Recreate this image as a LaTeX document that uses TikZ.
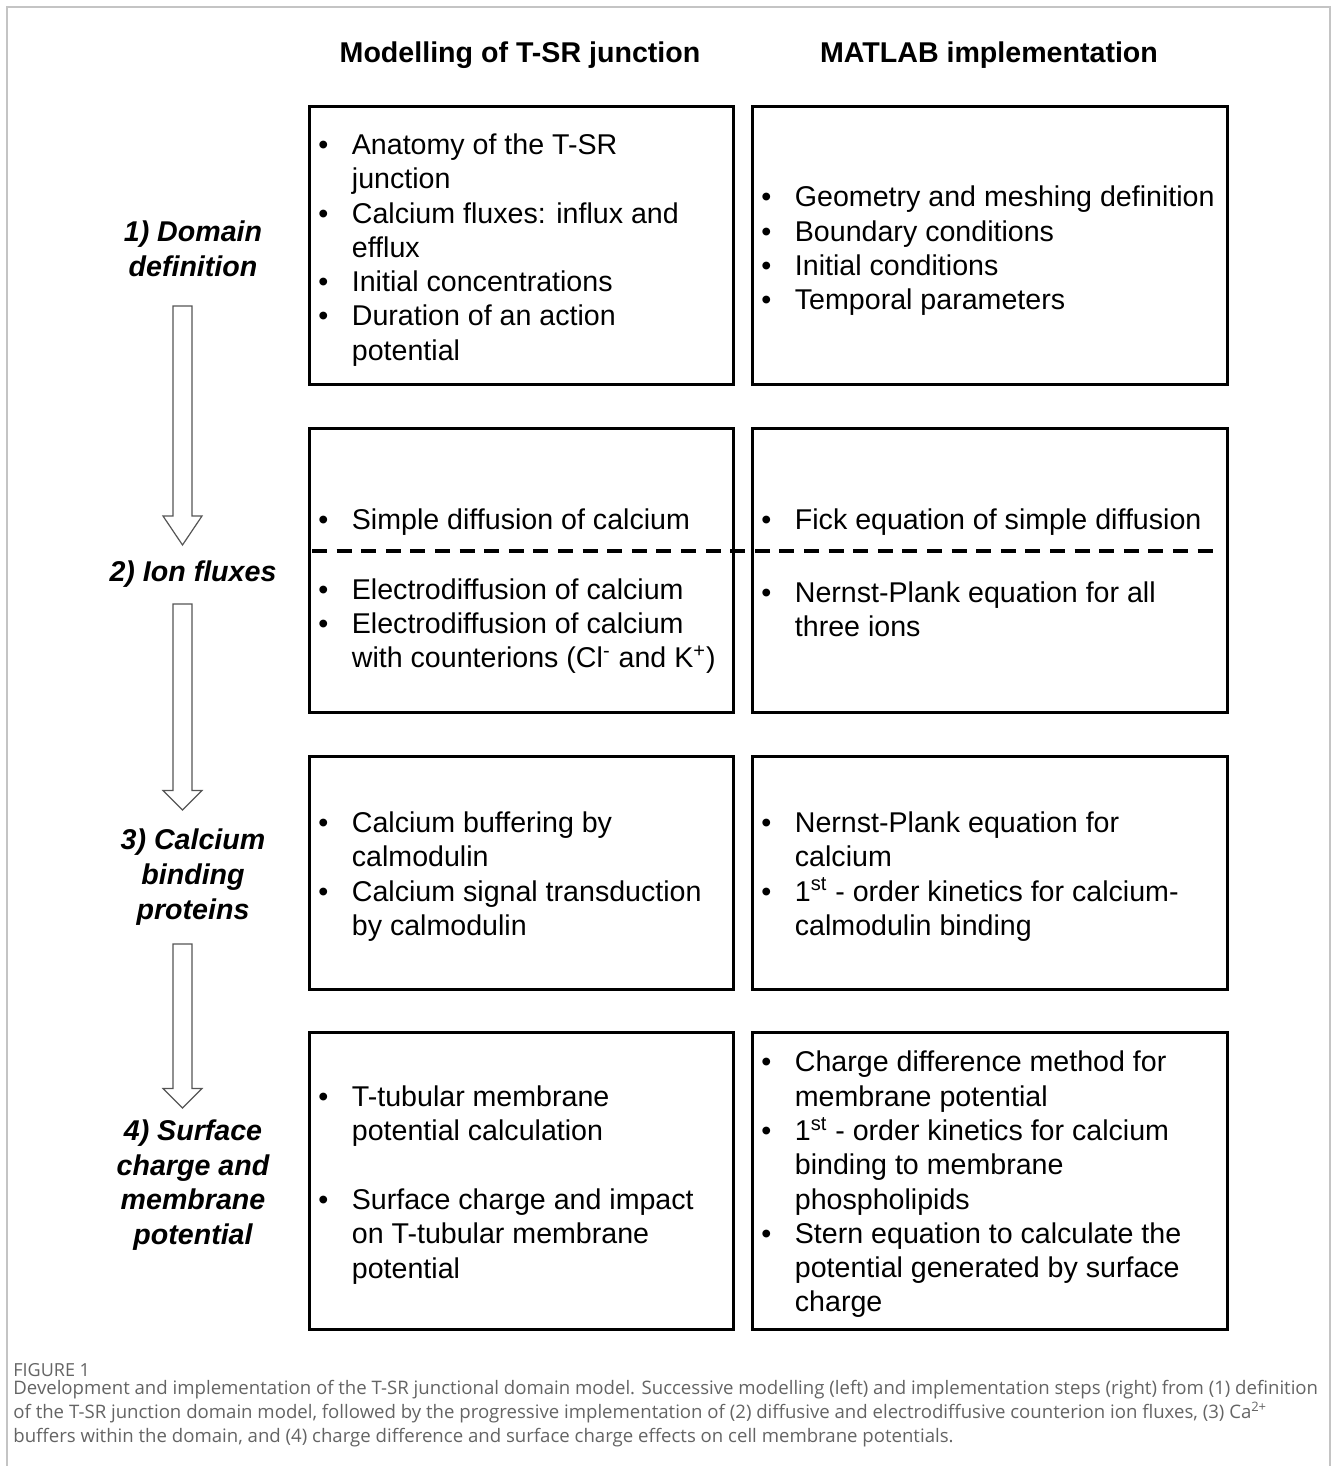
\documentclass[tikz,border=0pt]{standalone}
\usepackage{fontspec}
\setmainfont{Liberation Sans}
\newfontfamily\capfont{Open Sans}
\usetikzlibrary{calc}

\definecolor{framegray}{RGB}{196,196,196}
\definecolor{capgray}{RGB}{100,100,100}
\definecolor{arrowgray}{RGB}{85,85,85}

\newcommand{\bul}{\makebox[16.75pt][l]{\textbullet}}
\newcommand{\ind}{\hspace*{16.75pt}}
% hollow block arrow: top, tip, head length
\newcommand{\blockarrow}[3]{%
  \draw[blockarr] ($(#1)+(-9.5,0)$) -- ($(#2)+(-9.5,-#3)$) -- ($(#2)+(-19.5,-#3)$) -- (#2)
    -- ($(#2)+(19.5,-#3)$) -- ($(#2)+(9.5,-#3)$) -- ($(#1)+(9.5,0)$) -- cycle;}

\begin{document}
\begin{tikzpicture}[x=0.5pt,y=-0.5pt]
\useasboundingbox (0,0) rectangle (1331,1466);
\tikzstyle{every node}=[inner sep=0pt, font=\fontsize{14.3}{17.15}\selectfont];
\tikzstyle{colhead}=[font=\fontsize{14.3}{17.15}\selectfont\bfseries];
\tikzstyle{colbox}=[draw, rectangle, line width=1.5pt];
\tikzstyle{items}=[align=left, anchor=west];
\tikzstyle{steplabel}=[align=center, font=\fontsize{14.3}{17.3}\selectfont\bfseries\itshape];
\tikzstyle{blockarr}=[draw=arrowgray, line width=0.6pt, fill=white];
\tikzstyle{divider}=[line width=1.7pt, dash pattern=on 7.5pt off 4.8pt];

% outer frame
\draw[framegray, line width=0.75pt] (7,1466) -- (7,7) -- (1330,7) -- (1330,1466);

% column heads
\path (520,55) node[colhead] (hmod) {Modelling of T-SR junction};
\path (989,55) node[colhead] (hmat) {MATLAB implementation};

% boxes
\path (521,245.5) node[colbox, minimum width=212pt, minimum height=138.5pt] (m1) {};
\path (989.5,245.5) node[colbox, minimum width=237.5pt, minimum height=138.5pt] (i1) {};
\path (521,570) node[colbox, minimum width=212pt, minimum height=142pt] (m2) {};
\path (989.5,570) node[colbox, minimum width=237.5pt, minimum height=142pt] (i2) {};
\path (521,872.5) node[colbox, minimum width=212pt, minimum height=116.5pt] (m3) {};
\path (989.5,872.5) node[colbox, minimum width=237.5pt, minimum height=116.5pt] (i3) {};
\path (521,1180.5) node[colbox, minimum width=212pt, minimum height=148.5pt] (m4) {};
\path (989.5,1180.5) node[colbox, minimum width=237.5pt, minimum height=148.5pt] (i4) {};
\draw[divider] (312,551) -- (1222,551);

% step labels
\path (193,249) node[steplabel] (s1) {1) Domain\\definition};
\path (193,574) node[steplabel] (s2) {2) Ion fluxes};
\path (193,877) node[steplabel] (s3) {3) Calcium\\binding\\proteins};
\path (193,1185) node[steplabel] (s4) {4) Surface\\charge and\\membrane\\potential};

% arrows
\coordinate (a1top) at (182.5,306);
\coordinate (a1tip) at (182.5,545);
\coordinate (a2top) at (182.5,604);
\coordinate (a2tip) at (182.5,810);
\coordinate (a3top) at (182.5,944);
\coordinate (a3tip) at (182.5,1108);
\blockarrow{a1top}{a1tip}{29}
\blockarrow{a2top}{a2tip}{19.5}
\blockarrow{a3top}{a3tip}{19.5}

% modelling items
\path (318,250) node[items] (m1t) {\bul Anatomy of the T-SR\\ \ind junction\\ \bul Calcium fluxes: influx and\\ \ind efflux\\ \bul Initial concentrations\\ \bul Duration of an action\\ \ind potential};
\path (318,522) node[items] (m2a) {\bul Simple diffusion of calcium};
\path (318,626) node[items] (m2b) {\bul Electrodiffusion of calcium\\ \bul Electrodiffusion of calcium\\ \ind with counterions (Cl\textsuperscript{-} and K\textsuperscript{+})};
\path (318,876.5) node[items] (m3t) {\bul Calcium buffering by\\ \ind calmodulin\\ \bul Calcium signal transduction\\ \ind by calmodulin};
\path (318,1185) node[items] (m4t) {\bul T-tubular membrane\\ \ind potential calculation\\[17.15pt] \bul Surface charge and impact\\ \ind on T-tubular membrane\\ \ind potential};

% implementation items
\path (761,251) node[items] (i1t) {\bul Geometry and meshing definition\\ \bul Boundary conditions\\ \bul Initial conditions\\ \bul Temporal parameters};
\path (761,522) node[items] (i2a) {\bul Fick equation of simple diffusion};
\path (761,609) node[items] (i2b) {\bul Nernst-Plank equation for all\\ \ind three ions};
\path (761,876.5) node[items] (i3t) {\bul Nernst-Plank equation for\\ \ind calcium\\ \bul 1\textsuperscript{st} - order kinetics for calcium-\\ \ind calmodulin binding};
\path (761,1184.5) node[items] (i4t) {\bul Charge difference method for\\ \ind membrane potential\\ \bul 1\textsuperscript{st} - order kinetics for calcium\\ \ind binding to membrane\\ \ind phospholipids\\ \bul Stern equation to calculate the\\ \ind potential generated by surface\\ \ind charge};

% caption
\path (13,1370) node[anchor=west, text=capgray, font=\capfont\fontsize{9}{10}\selectfont] (fig) {FIGURE 1};
\path (13,1414) node[anchor=west, align=left, text=capgray, font=\capfont\fontsize{9.3}{12}\selectfont] (cap) {Development and implementation of the T-SR junctional domain model. Successive modelling (left) and implementation steps (right) from (1) definition\\of the T-SR junction domain model, followed by the progressive implementation of (2) diffusive and electrodiffusive counterion ion fluxes, (3) Ca\textsuperscript{2+}\\buffers within the domain, and (4) charge difference and surface charge effects on cell membrane potentials.};
\end{tikzpicture}
\end{document}
